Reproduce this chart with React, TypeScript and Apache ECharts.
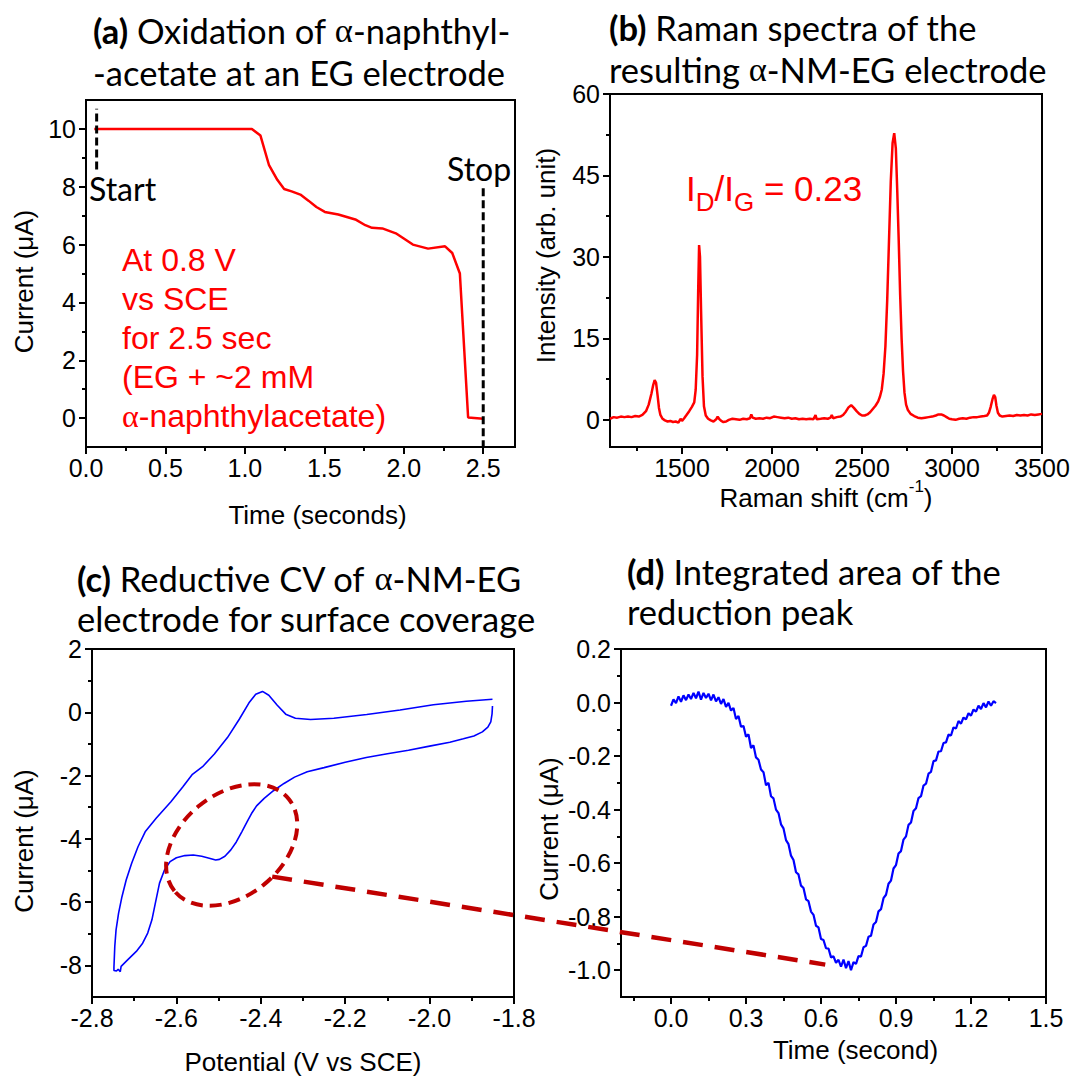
import React, { useEffect, useRef } from "react";
import * as echarts from "echarts";

// ---------------- Panel (a): oxidation current vs time ----------------
const oxTime = [0.052, 1.044, 1.098, 1.151, 1.204, 1.247, 1.294, 1.349, 1.4, 1.45, 1.503, 1.588, 1.695, 1.758, 1.8, 1.865, 1.95, 2.0, 2.057, 2.153, 2.26, 2.305, 2.353, 2.405, 2.5];
const oxCurrent = [10, 10, 9.77, 8.76, 8.24, 7.92, 7.84, 7.73, 7.52, 7.3, 7.13, 7.04, 6.87, 6.67, 6.58, 6.56, 6.39, 6.21, 6.0, 5.86, 5.94, 5.71, 5.0, 0.02, -0.02];
const startMarkTime = [0.067, 0.067];
const startMarkCurrent = [8.6, 10.7];
const stopMarkTime = [2.5, 2.5];
const stopMarkCurrent = [7.95, -1];
const aXMajor = [0, 0.5, 1, 1.5, 2, 2.5];
const aXMinor = [0.25, 0.75, 1.25, 1.75, 2.25];
const aYMajor = [0, 2, 4, 6, 8, 10];
const aYMinor = [1, 3, 5, 7, 9];

// ---------------- Panel (b): Raman spectrum ----------------
const ramanShift = [1100, 1120, 1140, 1160, 1180, 1200, 1220, 1240, 1260, 1280, 1300, 1315, 1330, 1340, 1348, 1356, 1364, 1372, 1380, 1392, 1405, 1420, 1435, 1450, 1465, 1480, 1492, 1500, 1512, 1525, 1540, 1555, 1568, 1576, 1584, 1590, 1595, 1600, 1606, 1614, 1622, 1632, 1645, 1660, 1675, 1690, 1698, 1706, 1718, 1730, 1745, 1760, 1780, 1800, 1820, 1840, 1860, 1878, 1885, 1892, 1910, 1930, 1950, 1970, 1990, 2010, 2030, 2050, 2070, 2090, 2110, 2130, 2150, 2170, 2190, 2210, 2230, 2242, 2248, 2270, 2290, 2310, 2325, 2332, 2340, 2360, 2380, 2395, 2410, 2425, 2440, 2455, 2470, 2485, 2500, 2515, 2530, 2545, 2560, 2575, 2590, 2600, 2610, 2620, 2630, 2640, 2650, 2660, 2670, 2679, 2688, 2696, 2704, 2712, 2720, 2728, 2736, 2745, 2755, 2770, 2790, 2810, 2830, 2850, 2870, 2890, 2910, 2925, 2940, 2955, 2970, 2985, 3000, 3020, 3040, 3060, 3080, 3100, 3120, 3140, 3160, 3180, 3195, 3205, 3215, 3225, 3233, 3240, 3247, 3255, 3265, 3280, 3300, 3320, 3340, 3360, 3380, 3400, 3420, 3440, 3460, 3480, 3500];
const ramanIntensity = [0.2, 0.5, 0.4, 0.6, 0.5, 0.6, 0.5, 0.7, 0.6, 0.9, 1.6, 2.8, 4.8, 6.4, 7.3, 6.8, 4.6, 2.2, 0.9, 0.2, -0.1, -0.3, -0.2, -0.4, -0.3, -0.5, 0.2, -0.2, 0.3, 0.9, 1.6, 2.4, 3.2, 5.5, 12, 24, 32.2, 30, 20, 8, 2.5, 0.8, 0.2, -0.1, -0.3, 0.1, 0.6, 0.2, -0.2, -0.4, -0.3, 0.0, 0.2, 0.1, 0.0, 0.2, 0.1, 0.3, 1.0, 0.4, 0.2, 0.3, 0.2, 0.4, 0.3, 0.6, 0.5, 0.4, 0.3, 0.4, 0.2, 0.3, 0.1, 0.2, 0.1, 0.2, 0.1, 0.9, 0.1, 0.2, 0.3, 0.2, 0.4, 0.9, 0.3, 0.5, 0.6, 0.9, 1.5, 2.3, 2.7, 2.2, 1.6, 1.1, 0.8, 0.8, 1.0, 1.4, 2.0, 2.6, 3.4, 4.3, 5.6, 8.5, 13.5, 22, 33, 44, 51, 52.8, 50, 42, 33, 23, 15, 9, 5, 2.8, 1.8, 1.1, 0.7, 0.4, 0.3, 0.4, 0.5, 0.6, 0.8, 1.0, 1.0, 0.8, 0.5, 0.2, 0.1, 0.0, 0.2, 0.3, 0.2, 0.4, 0.5, 0.5, 0.6, 0.7, 0.8, 1.3, 2.4, 3.8, 4.6, 4.2, 2.6, 1.3, 0.8, 0.6, 0.7, 0.8, 0.7, 0.9, 0.8, 0.9, 0.8, 1.0, 0.9, 1.0, 1.1];
const bXMajor = [1500, 2000, 2500, 3000, 3500];
const bXMinor = [1250, 1750, 2250, 2750, 3250];
const bYMajor = [0, 15, 30, 45, 60];
const bYMinor = [7.5, 22.5, 37.5, 52.5];

// ---------------- Panel (c): reductive CV ----------------
const cvPotential = [-1.851, -1.852, -1.855, -1.862, -1.875, -1.895, -1.92, -1.952, -2.0, -2.05, -2.1, -2.15, -2.2, -2.25, -2.29, -2.32, -2.345, -2.37, -2.392, -2.41, -2.422, -2.432, -2.445, -2.458, -2.471, -2.485, -2.498, -2.507, -2.52, -2.54, -2.56, -2.58, -2.6, -2.615, -2.628, -2.64, -2.65, -2.658, -2.668, -2.68, -2.695, -2.715, -2.731, -2.733, -2.738, -2.742, -2.748, -2.748, -2.746, -2.743, -2.737, -2.729, -2.719, -2.706, -2.691, -2.674, -2.648, -2.613, -2.585, -2.562, -2.538, -2.51, -2.479, -2.451, -2.428, -2.412, -2.396, -2.381, -2.361, -2.341, -2.318, -2.282, -2.227, -2.149, -2.07, -1.991, -1.913, -1.851];
const cvCurrent = [0.2, -0.05, -0.3, -0.47, -0.62, -0.75, -0.84, -0.95, -1.07, -1.2, -1.31, -1.43, -1.58, -1.75, -1.88, -2.05, -2.25, -2.48, -2.72, -2.96, -3.2, -3.45, -3.78, -4.1, -4.35, -4.55, -4.65, -4.67, -4.62, -4.55, -4.51, -4.53, -4.6, -4.72, -4.98, -5.4, -6.04, -6.56, -6.98, -7.3, -7.56, -7.82, -8.03, -8.2, -8.12, -8.18, -8.16, -8.05, -7.4, -6.88, -6.35, -5.83, -5.3, -4.77, -4.25, -3.78, -3.35, -2.83, -2.36, -1.96, -1.72, -1.32, -0.8, -0.22, 0.3, 0.57, 0.66, 0.54, 0.22, -0.06, -0.19, -0.23, -0.19, -0.07, 0.07, 0.24, 0.35, 0.41];
const cXMajor = [-2.8, -2.6, -2.4, -2.2, -2.0, -1.8];
const cXMinor = [-2.7, -2.5, -2.3, -2.1, -1.9];
const cYMajor = [-8, -6, -4, -2, 0, 2];
const cYMinor = [-7, -5, -3, -1, 1];
// highlighted reduction peak (ellipse) and connector, in data units
const peakEllipseCenter = [-2.469, -4.196];
const peakEllipseAxes = [0.174, 0.121]; // semi-axes, in potential units
const peakEllipseTiltDeg = 38.7;
const connectorFromCV = [-2.373, -5.195];
const connectorToArea = [0.617, -0.979];

// ---------------- Panel (d): integrated reduction peak ----------------
const areaTime = [0, 0.01, 0.02, 0.03, 0.04, 0.05, 0.06, 0.07, 0.08, 0.09, 0.1, 0.11, 0.12, 0.13, 0.14, 0.15, 0.16, 0.17, 0.18, 0.19, 0.2, 0.21, 0.22, 0.23, 0.24, 0.25, 0.26, 0.27, 0.28, 0.29, 0.3, 0.31, 0.32, 0.33, 0.34, 0.35, 0.36, 0.37, 0.38, 0.39, 0.4, 0.41, 0.42, 0.43, 0.44, 0.45, 0.46, 0.47, 0.48, 0.49, 0.5, 0.51, 0.52, 0.53, 0.54, 0.55, 0.56, 0.57, 0.58, 0.59, 0.6, 0.61, 0.62, 0.63, 0.64, 0.65, 0.66, 0.67, 0.68, 0.69, 0.7, 0.71, 0.72, 0.73, 0.74, 0.75, 0.76, 0.77, 0.78, 0.79, 0.8, 0.81, 0.82, 0.83, 0.84, 0.85, 0.86, 0.87, 0.88, 0.89, 0.9, 0.91, 0.92, 0.93, 0.94, 0.95, 0.96, 0.97, 0.98, 0.99, 1.0, 1.01, 1.02, 1.03, 1.04, 1.05, 1.06, 1.07, 1.08, 1.09, 1.1, 1.11, 1.12, 1.13, 1.14, 1.15, 1.16, 1.17, 1.18, 1.19, 1.2, 1.21, 1.22, 1.23, 1.24, 1.25, 1.26, 1.27, 1.28, 1.29, 1.3];
const areaCurrent = [-0.012, 0.012, -0.002, 0.023, 0.003, 0.027, 0.009, 0.03, 0.013, 0.036, 0.016, 0.041, 0.011, 0.036, 0.017, 0.033, 0.008, 0.03, 0.004, 0.02, -0.005, 0.013, -0.016, -0.001, -0.03, -0.02, -0.062, -0.05, -0.09, -0.088, -0.128, -0.119, -0.17, -0.16, -0.205, -0.214, -0.25, -0.26, -0.309, -0.3, -0.35, -0.358, -0.4, -0.413, -0.455, -0.47, -0.514, -0.529, -0.572, -0.588, -0.634, -0.642, -0.684, -0.693, -0.735, -0.742, -0.781, -0.793, -0.834, -0.84, -0.883, -0.887, -0.918, -0.919, -0.952, -0.948, -0.972, -0.961, -0.987, -0.96, -0.992, -0.966, -1.0, -0.97, -0.976, -0.947, -0.949, -0.914, -0.909, -0.875, -0.871, -0.829, -0.82, -0.78, -0.772, -0.731, -0.718, -0.677, -0.665, -0.62, -0.607, -0.564, -0.555, -0.512, -0.5, -0.457, -0.448, -0.405, -0.395, -0.357, -0.35, -0.31, -0.303, -0.266, -0.259, -0.219, -0.216, -0.183, -0.182, -0.151, -0.149, -0.12, -0.123, -0.093, -0.097, -0.069, -0.079, -0.056, -0.063, -0.04, -0.049, -0.026, -0.034, -0.012, -0.024, -0.002, -0.018, 0.004, -0.012, 0.005, -0.002];
const dXMajor = [0, 0.3, 0.6, 0.9, 1.2, 1.5];
const dXMinor = [-0.15, 0.15, 0.45, 0.75, 1.05, 1.35];
const dYMajor = [-1.0, -0.8, -0.6, -0.4, -0.2, 0, 0.2];
const dYMinor = [-0.9, -0.7, -0.5, -0.3, -0.1, 0.1];

const FONT_AX = "'Liberation Sans', Arimo, Arial, sans-serif";
const FONT_TITLE = "Lato, 'Open Sans', sans-serif";
const FONT_GREEK = "'Liberation Serif', 'DejaVu Serif', serif";
const TITLE_SIZE = 34.5;
const RED = "#ff0000";
const BLUE = "#0000ff";
const DARKRED = "#c00000";

const zip = (a: number[], b: number[]) => a.map((v, i) => [v, b[i]]);

function axisPair(
  dim: "x" | "y",
  gridIndex: number,
  min: number,
  max: number,
  major: number[],
  minor: number[],
  fmt: (v: number) => string,
  name: string,
  nameGap: number,
  namePadding: number[],
  rich?: any
) {
  const base: any = {
    type: "value",
    gridIndex,
    min,
    max,
    position: dim === "x" ? "bottom" : "left",
    splitLine: { show: false },
  };
  const main = {
    ...base,
    axisLine: { show: true, onZero: false, lineStyle: { color: "#000", width: 2 } },
    axisTick: { show: true, inside: false, length: 7, customValues: major, lineStyle: { color: "#000", width: 2 } },
    axisLabel: {
      show: true,
      customValues: major,
      formatter: (v: number) => fmt(v),
      color: "#000",
      fontSize: 25,
      fontFamily: FONT_AX,
      margin: dim === "x" ? 8 : 10,
    },
    name,
    nameLocation: "middle",
    nameGap,
    nameMoveOverlap: false,
    nameTextStyle: {
      color: "#000",
      fontSize: 26,
      fontFamily: FONT_AX,
      padding: namePadding,
      ...(rich ? { rich } : {}),
    },
  };
  const minorAxis = {
    ...base,
    axisLine: { show: false, onZero: false },
    axisTick: { show: true, inside: false, length: 4, customValues: minor, lineStyle: { color: "#000", width: 2 } },
    axisLabel: { show: false },
  };
  return [main, minorAxis];
}

const fmtInt = (v: number) => String(Math.round(v));
const fmt1 = (v: number) => (Math.abs(v) < 1e-9 ? 0 : v).toFixed(1);

export default function App() {
  const ref = useRef<HTMLDivElement>(null);

  useEffect(() => {
    if (!ref.current) return;
    const chart = echarts.init(ref.current, null, { renderer: "svg" });

    const gridBase = { show: true, borderColor: "#000", borderWidth: 2, backgroundColor: "transparent", containLabel: false, outerBoundsMode: "none" };

    const ramanRich = {
      a: { fontSize: 26, fontFamily: FONT_AX, color: "#000", lineHeight: 39 },
      p: { fontSize: 17, fontFamily: FONT_AX, color: "#000", lineHeight: 17, padding: [0, 0, 22, 0] },
    };

    const xAxes = [
      ...axisPair("x", 0, 0, 2.7, aXMajor, aXMinor, fmt1, "Time (seconds)", 55, [0, 0, 0, 34]),
      ...axisPair("x", 1, 1100, 3500, bXMajor, bXMinor, fmtInt, "{a|Raman shift (cm}{p|-1}{a|)}", 31, [0, 0, 0, 0], ramanRich),
      ...axisPair("x", 2, -2.8, -1.8, cXMajor, cXMinor, fmt1, "Potential (V vs SCE)", 52, [0, 0, 0, 0]),
      ...axisPair("x", 3, -0.2, 1.5, dXMajor, dXMinor, fmt1, "Time (second)", 40, [0, 0, 0, 44]),
    ];
    const yAxes = [
      ...axisPair("y", 0, -1, 11, aYMajor, aYMinor, fmtInt, "Current (\u03bcA)", 49, [0, 16, 0, 0]),
      ...axisPair("y", 1, -5, 60, bYMajor, bYMinor, fmtInt, "Intensity (arb. unit)", 51, [0, 0, 0, 30]),
      ...axisPair("y", 2, -9, 2, cYMajor, cYMinor, fmtInt, "Current (\u03bcA)", 55, [0, 36, 0, 0]),
      ...axisPair("y", 3, -1.1, 0.2, dYMajor, dYMinor, fmt1, "Current (\u03bcA)", 59, [0, 12, 0, 0]),
    ];

    const titleRich = () => ({
      b: { fontSize: TITLE_SIZE, fontFamily: FONT_TITLE, fontWeight: "bold", fill: "#000", color: "#000" },
      n: { fontSize: TITLE_SIZE, fontFamily: FONT_TITLE, fontWeight: "normal", fill: "#000", color: "#000" },
      g: { fontSize: TITLE_SIZE, fontFamily: FONT_GREEK, fontWeight: "normal", fill: "#000", color: "#000" },
    });
    const titleText = (text: string, x: number, y: number) => ({
      type: "text",
      x,
      y,
      z: 50,
      style: {
        text,
        rich: titleRich(),
        fontSize: TITLE_SIZE,
        fontFamily: FONT_TITLE,
        fill: "#000",
        align: "left",
        textAlign: "left",
        verticalAlign: "middle",
        textVerticalAlign: "middle",
      },
    });

    const option: any = {
      animation: false,
      backgroundColor: "#ffffff",
      grid: [
        { ...gridBase, left: 86, top: 100, width: 429, height: 347 },
        { ...gridBase, left: 610, top: 94, width: 432, height: 353 },
        { ...gridBase, left: 92, top: 649, width: 422, height: 348 },
        { ...gridBase, left: 621, top: 649, width: 425, height: 348 },
      ],
      xAxis: xAxes,
      yAxis: yAxes,
      series: [
        {
          type: "line",
          xAxisIndex: 0,
          yAxisIndex: 0,
          data: zip(oxTime, oxCurrent),
          symbol: "none",
          lineStyle: { color: RED, width: 2.5 },
          z: 3,
        },
        {
          type: "line",
          xAxisIndex: 0,
          yAxisIndex: 0,
          data: zip(startMarkTime, startMarkCurrent),
          symbol: "none",
          lineStyle: { color: "#000", width: 3, type: [8, 4] },
          z: 4,
        },
        {
          type: "line",
          xAxisIndex: 0,
          yAxisIndex: 0,
          data: zip(stopMarkTime, stopMarkCurrent),
          symbol: "none",
          lineStyle: { color: "#000", width: 3, type: [8, 4] },
          z: 4,
        },
        {
          type: "line",
          xAxisIndex: 2,
          yAxisIndex: 2,
          data: zip(ramanShift, ramanIntensity),
          symbol: "none",
          lineStyle: { color: RED, width: 2.5 },
        },
        {
          type: "line",
          xAxisIndex: 4,
          yAxisIndex: 4,
          data: zip(cvPotential, cvCurrent),
          symbol: "none",
          lineStyle: { color: BLUE, width: 1.6 },
        },
        {
          type: "line",
          xAxisIndex: 6,
          yAxisIndex: 6,
          data: zip(areaTime, areaCurrent),
          symbol: "none",
          lineStyle: { color: BLUE, width: 2.2 },
        },
      ],
      graphic: [
        titleText("{b|(a)}{n| Oxidation of }{g|\u03b1}{n|-naphthyl-}", 93, 30),
        titleText("{n|-acetate at an EG electrode}", 93, 72),
        titleText("{b|(b)}{n| Raman spectra of the}", 609, 27),
        titleText("{n|resulting }{g|\u03b1}{n|-NM-EG electrode}", 609, 69),
        titleText("{b|(c)}{n| Reductive CV of }{g|\u03b1}{n|-NM-EG}", 77, 578),
        titleText("{n|electrode for surface coverage}", 77, 618),
        titleText("{b|(d)}{n| Integrated area of the}", 627, 571),
        titleText("{n|reduction peak}", 627, 611),
        {
          type: "text",
          x: 89,
          y: 188,
          z: 50,
          style: { text: "Start", fontSize: 32, fontFamily: FONT_TITLE, fill: "#000", align: "left", textAlign: "left", verticalAlign: "middle", textVerticalAlign: "middle" },
        },
        {
          type: "text",
          x: 447,
          y: 168,
          z: 50,
          style: { text: "Stop", fontSize: 32, fontFamily: FONT_TITLE, fill: "#000", align: "left", textAlign: "left", verticalAlign: "middle", textVerticalAlign: "middle" },
        },
        {
          type: "text",
          x: 122,
          y: 240,
          z: 50,
          style: {
            text: "{r|At 0.8 V}\n{r|vs SCE}\n{r|for 2.5 sec}\n{r|(EG + ~2 mM}\n{g|\u03b1}{r|-naphthylacetate)}",
            rich: {
              r: { fontSize: 32, fontFamily: FONT_AX, fill: RED, color: RED, lineHeight: 39 },
              g: { fontSize: 32, fontFamily: FONT_GREEK, fill: RED, color: RED, lineHeight: 39 },
            },
            fontSize: 32,
            fontFamily: FONT_AX,
            fill: RED,
            align: "left",
            textAlign: "left",
            verticalAlign: "top",
            textVerticalAlign: "top",
          },
        },
        {
          type: "text",
          x: 686,
          y: 188,
          z: 50,
          style: {
            text: "{m|I}{s|D}{m|/I}{s|G}{m| = 0.23}",
            rich: {
              m: { fontSize: 35, fontFamily: FONT_AX, fill: RED, color: RED, lineHeight: 54 },
              s: { fontSize: 26, fontFamily: FONT_AX, fill: RED, color: RED, lineHeight: 26, padding: [28, 0, 0, 0] },
            },
            fontSize: 35,
            fontFamily: FONT_AX,
            fill: RED,
            align: "left",
            textAlign: "left",
            verticalAlign: "middle",
            textVerticalAlign: "middle",
          },
        },
      ],
    };

    chart.setOption(option);

    // Annotation shapes anchored to data coordinates
    const c = chart.convertToPixel({ seriesIndex: 4 }, peakEllipseCenter) as number[];
    const cx0 = chart.convertToPixel({ seriesIndex: 4 }, [cXMajor[0], 0]) as number[];
    const cx1 = chart.convertToPixel({ seriesIndex: 4 }, [cXMajor[cXMajor.length - 1], 0]) as number[];
    const pxPerVolt = (cx1[0] - cx0[0]) / (cXMajor[cXMajor.length - 1] - cXMajor[0]);
    const p1 = chart.convertToPixel({ seriesIndex: 4 }, connectorFromCV) as number[];
    const p2 = chart.convertToPixel({ seriesIndex: 5 }, connectorToArea) as number[];

    chart.setOption({
      graphic: [
        ...option.graphic,
        {
          type: "ellipse",
          x: c[0],
          y: c[1],
          rotation: (peakEllipseTiltDeg * Math.PI) / 180,
          z: 60,
          shape: { cx: 0, cy: 0, rx: peakEllipseAxes[0] * pxPerVolt, ry: peakEllipseAxes[1] * pxPerVolt },
          style: { fill: "transparent", stroke: DARKRED, lineWidth: 4, lineDash: [12, 7] },
        },
        {
          type: "line",
          z: 60,
          shape: { x1: p1[0], y1: p1[1], x2: p2[0], y2: p2[1] },
          style: { stroke: DARKRED, lineWidth: 4.5, lineDash: [20, 12] },
        },
      ],
    });

    return () => {
      chart.dispose();
    };
  }, []);

  return (
    <div
      ref={ref}
      style={{ position: "absolute", left: 0, top: 0, width: 1075, height: 1078, background: "#fff" }}
    />
  );
}
